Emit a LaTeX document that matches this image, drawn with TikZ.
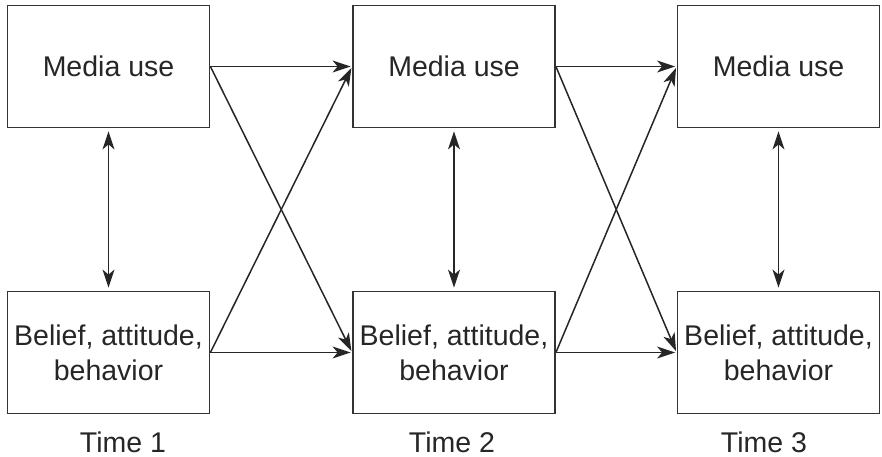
\documentclass[tikz,border=0pt]{standalone}
\usepackage{fontspec}
\setmainfont{Liberation Sans}
\usetikzlibrary{arrows.meta}
\begin{document}
\begin{tikzpicture}[x=1pt,y=-1pt,
 tip/.tip={Stealth[length=18pt,width=12pt,inset=5pt]},
 box/.style={draw=black!80, line width=1.8pt, minimum width=202pt, minimum height=122pt, inner sep=0pt, font=\fontsize{28.5}{35}\selectfont, align=center, text=black!85},
 arr/.style={draw=black!85, line width=1.5pt, -tip, shorten >=1.5pt},
 darr/.style={draw=black!85, line width=1.5pt, tip-tip, shorten >=3pt, shorten <=3pt},
 lab/.style={font=\fontsize{28.5}{34}\selectfont, text=black!85}]
\useasboundingbox (0,0) rectangle (882,457);
\node[box] (m1) at (108.5,66.5) {Media use};
\node[box] (m2) at (454,66.5) {Media use};
\node[box] (m3) at (778.5,66.5) {Media use};
\node[box] (b1) at (108.5,352.5) {Belief, attitude,\\behavior};
\node[box] (b2) at (454,352.5) {Belief, attitude,\\behavior};
\node[box] (b3) at (778.5,352.5) {Belief, attitude,\\behavior};
\draw[arr] (m1.east) -- (m2.west);
\draw[arr] (m1.east) -- (b2.west);
\draw[arr] (b1.east) -- (m2.west);
\draw[arr] (b1.east) -- (b2.west);
\draw[arr] (m2.east) -- (m3.west);
\draw[arr] (m2.east) -- (b3.west);
\draw[arr] (b2.east) -- (m3.west);
\draw[arr] (b2.east) -- (b3.west);
\draw[darr] (m1.south) -- (b1.north);
\draw[darr] (m2.south) -- (b2.north);
\draw[darr] (m3.south) -- (b3.north);
\node[lab] (t1) at (123,442) {Time 1};
\node[lab] (t2) at (452,442) {Time 2};
\node[lab] (t3) at (764,442) {Time 3};
\end{tikzpicture}
\end{document}
